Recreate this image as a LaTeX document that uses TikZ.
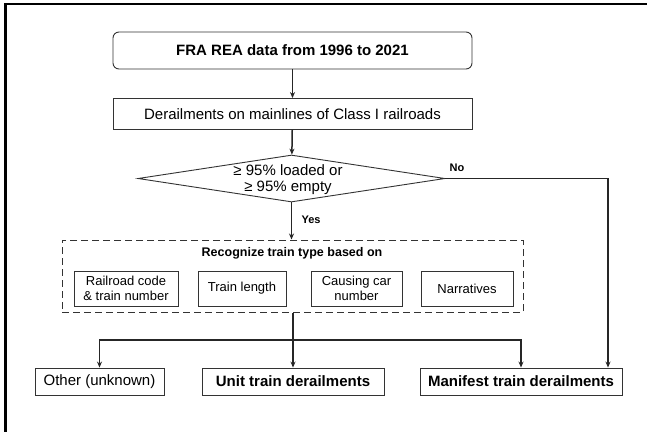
\documentclass[tikz,border=0pt]{standalone}
\usepackage{fontspec}
\setmainfont{Liberation Sans}
\usetikzlibrary{shapes.geometric,arrows.meta}
\begin{document}
\begin{tikzpicture}[x=1pt,y=-1pt,
  box/.style={draw=black!80, line width=0.9pt, rectangle, inner sep=0pt, align=center},
  big/.style={font=\fontsize{15}{16}\selectfont},
  bigb/.style={font=\fontsize{15}{16}\selectfont\bfseries},
  small/.style={font=\fontsize{13}{15}\selectfont},
  lab/.style={font=\fontsize{11}{13}\selectfont\bfseries, inner sep=0pt},
  conn/.style={draw=black!85, line width=1.5pt},
  arr/.style={conn, -{Stealth[length=6pt,width=5pt]}},
]
\useasboundingbox (0,0) rectangle (647,432);
\fill[white] (0,0) rectangle (647,432);
\draw[line width=2.4pt] (647,4) -- (5.5,4) -- (5.5,432);

\node[box, bigb, rounded corners=6pt, minimum width=359pt, minimum height=37pt] (src) at (292.5,50.5) {FRA REA data from 1996 to 2021};
\node[box, big, minimum width=359pt, minimum height=31pt] (mainl) at (292.5,114) {Derailments on mainlines of Class I railroads};
\node[diamond, draw=black!80, line width=0.9pt, inner sep=0pt, minimum width=307pt, minimum height=47pt] (dec) at (291.5,178.5) {};
\node[big, align=center, inner sep=0pt] (dectext) at (288,180) {≥ 95\% loaded or\\≥ 95\% empty};

\node[draw=black!80, dash pattern=on 7pt off 4pt, line width=1pt, minimum width=461pt, minimum height=72pt, inner sep=0pt] (recog) at (292.5,276) {};
\node[font=\fontsize{12.5}{14}\selectfont\bfseries, inner sep=0pt] (rtitle) at (292,253) {Recognize train type based on};
\node[box, small, minimum width=104pt, minimum height=35pt] (b1) at (126,288.5) {Railroad code\\\& train number};
\node[box, small, minimum width=88pt, minimum height=35pt] (b2) at (242,288.5) {Train length};
\node[box, small, minimum width=91pt, minimum height=35pt] (b3) at (356.5,288.5) {Causing car\\number};
\node[box, small, minimum width=92pt, minimum height=35pt] (b4) at (467,288.5) {Narratives};

\node[box, big, minimum width=129pt, minimum height=27pt] (other) at (99.5,381.5) {Other (unknown)};
\node[box, bigb, minimum width=182pt, minimum height=27pt] (unit) at (293,381.5) {Unit train derailments};
\node[box, bigb, minimum width=202pt, minimum height=27pt] (manif) at (521,381.5) {Manifest train derailments};

\node[lab] (no) at (457,168) {No};
\node[lab] (yes) at (311,220) {Yes};

\draw[arr] (src) -- (mainl);
\draw[arr] (mainl) -- (dec);
\draw[arr] (dec.south) -- (dec.south |- recog.north);
\coordinate (noturn) at (608,178.5);
\draw[arr] (dec.east) -- (noturn) -- (noturn |- manif.north);
\draw[arr] (recog.south -| unit.north) -- (unit.north);
\coordinate (bus) at (293,340);
\draw[arr] (bus) -| (other.north);
\draw[arr] (bus) -| (manif.north);
\end{tikzpicture}
\end{document}
